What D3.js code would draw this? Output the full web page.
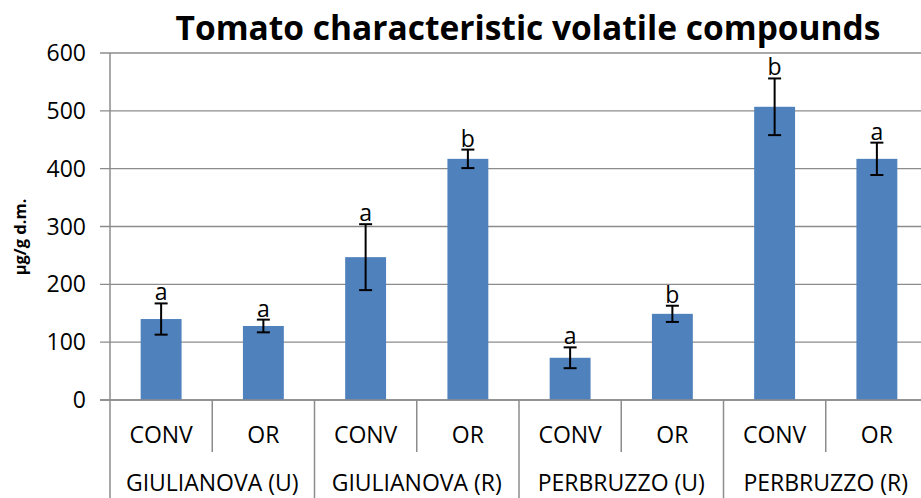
<!DOCTYPE html>
<html>
<head>
<meta charset="utf-8">
<script src="https://cdn.jsdelivr.net/npm/d3@7"></script>
<style>
body{margin:0;background:#fff;}
svg{display:block;}
text{font-family:"Open Sans",sans-serif;fill:#000;}
</style>
</head>
<body>
<svg width="921" height="498"></svg>
<script>
// data
var groups=["GIULIANOVA (U)","GIULIANOVA (R)","PERBRUZZO (U)","PERBRUZZO (R)"];
var treatments=["CONV","OR"];
var values=[140,128,247,417,73,149,507,417];
var errors=[27,11,57,16,18,14,49,28];
var letters=["a","a","a","b","a","b","b","a"];
var yTicks=[0,100,200,300,400,500,600];

var svg=d3.select("svg");
var pLeft=110,pRight=928,pTop=53,pBottom=400;

var cats=[];
groups.forEach(function(g,i){
  treatments.forEach(function(t,j){
    cats.push({key:g+"|"+t,group:g,treat:t,idx:i*2+j});
  });
});

var x=d3.scaleBand().domain(cats.map(function(d){return d.key;})).range([pLeft,pRight]).padding(0);
var y=d3.scaleLinear().domain([0,600]).range([pBottom,pTop]);
var bw=x.bandwidth()*0.4;

// gridlines
svg.append("g").selectAll("line").data(yTicks).enter().append("line")
  .attr("x1",pLeft-10).attr("x2",921)
  .attr("y1",function(d){return y(d);}).attr("y2",function(d){return y(d);})
  .attr("stroke","#8c8c8c").attr("stroke-width",1.3);

// y tick labels
svg.append("g").selectAll("text").data(yTicks).enter().append("text")
  .attr("x",86).attr("y",function(d){return y(d);})
  .attr("dy","0.35em").attr("text-anchor","end")
  .style("font-size","23px").text(function(d){return d;});

// bars
svg.append("g").selectAll("rect").data(cats).enter().append("rect")
  .attr("x",function(d){return x(d.key)+x.bandwidth()/2-bw/2;})
  .attr("width",bw)
  .attr("y",function(d){return y(values[d.idx]);})
  .attr("height",function(d){return y(0)-y(values[d.idx]);})
  .attr("fill","#4f81bd");

// error bars
var eb=svg.append("g").attr("stroke","#000").attr("stroke-width",2);
cats.forEach(function(d){
  var cx=x(d.key)+x.bandwidth()/2;
  var hi=y(values[d.idx]+errors[d.idx]),lo=y(values[d.idx]-errors[d.idx]);
  eb.append("line").attr("x1",cx).attr("x2",cx).attr("y1",hi).attr("y2",lo);
  eb.append("line").attr("x1",cx-6.5).attr("x2",cx+6.5).attr("y1",hi).attr("y2",hi);
  eb.append("line").attr("x1",cx-6.5).attr("x2",cx+6.5).attr("y1",lo).attr("y2",lo);
});

// letters
svg.append("g").selectAll("text").data(cats).enter().append("text")
  .attr("x",function(d){return x(d.key)+x.bandwidth()/2;})
  .attr("y",function(d){return y(values[d.idx]+errors[d.idx])-3;})
  .attr("text-anchor","middle").style("font-size","23px")
  .text(function(d){return letters[d.idx];});

// axes lines
var ax=svg.append("g").attr("stroke","#8c8c8c").attr("stroke-width",1.5);
ax.append("line").attr("x1",pLeft).attr("x2",pLeft).attr("y1",pTop).attr("y2",498);
ax.append("line").attr("x1",pLeft-10).attr("x2",921).attr("y1",pBottom).attr("y2",pBottom);
cats.forEach(function(d){
  if(d.idx==0) return;
  var xx=x(d.key);
  ax.append("line").attr("x1",xx).attr("x2",xx).attr("y1",pBottom)
    .attr("y2",d.idx%2==0?498:452);
});

// category labels
svg.append("g").selectAll("text").data(cats).enter().append("text")
  .attr("x",function(d){return x(d.key)+x.bandwidth()/2;})
  .attr("y",435).attr("dy","0.35em").attr("text-anchor","middle")
  .style("font-size","23px").text(function(d){return d.treat;});

svg.append("g").selectAll("text").data(groups).enter().append("text")
  .attr("x",function(d,i){return x(cats[i*2].key)+x.bandwidth();})
  .attr("y",483).attr("dy","0.35em").attr("text-anchor","middle")
  .style("font-size","23px").text(function(d){return d;});

// title
svg.append("text").attr("x",528).attr("y",28).attr("dy","0.35em")
  .attr("text-anchor","middle").style("font-size","33.5px").style("font-weight","bold")
  .text("Tomato characteristic volatile compounds");

// y label
svg.append("text").attr("transform","translate(20,237) rotate(-90)")
  .attr("dy","0.35em").attr("text-anchor","middle")
  .style("font-size","16.5px").style("font-weight","bold")
  .text("µg/g d.m.");
</script>
</body>
</html>
